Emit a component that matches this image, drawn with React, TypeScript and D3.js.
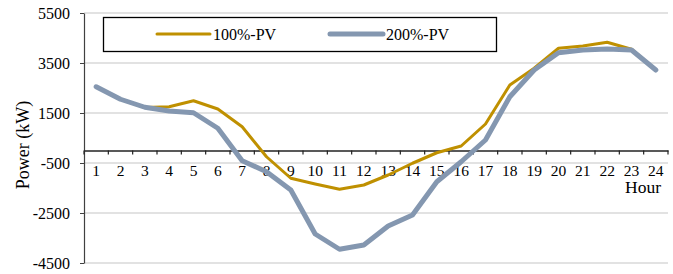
import React, { useRef, useEffect } from "react";
import * as d3 from "d3";

const hours = d3.range(1, 25).map(String);
const pv100 = [2550, 2050, 1720, 1750, 1990, 1660, 950, -250, -1110, -1340, -1550, -1380, -980, -510, -90, 180, 1060, 2620, 3290, 4090, 4180, 4330, 4050, 3220];
const pv200 = [2550, 2050, 1730, 1580, 1510, 890, -410, -850, -1580, -3340, -3950, -3780, -3020, -2580, -1250, -450, 420, 2150, 3220, 3910, 4020, 4060, 4020, 3220];
const yTicks = [5500, 3500, 1500, -500, -2500, -4500];

const series = [
    { name: "100%-PV", values: pv100, color: "#BF9000", width: 3 },
    { name: "200%-PV", values: pv200, color: "#8497B0", width: 5 },
];

const App = () => {
    const svgRef = useRef<SVGSVGElement>(null);

    useEffect(() => {
        if (!svgRef.current) return;
        const width = 673;
        const height = 274;
        const margin = { top: 13, right: 5, bottom: 11, left: 84 };
        const font = "Liberation Serif, Times New Roman, serif";

        d3.select(svgRef.current).selectAll("*").remove();
        const svg = d3.select(svgRef.current)
            .attr("width", width)
            .attr("height", height)
            .attr("font-family", font);

        const x = d3.scaleBand().domain(hours).range([margin.left, width - margin.right]);
        const y = d3.scaleLinear().domain([-4500, 5500]).range([height - margin.bottom, margin.top]);

        // gridlines
        svg.append("g")
            .selectAll("line")
            .data(yTicks)
            .enter()
            .append("line")
            .attr("x1", margin.left)
            .attr("x2", width - margin.right)
            .attr("y1", (d) => y(d))
            .attr("y2", (d) => y(d))
            .attr("stroke", "#d9d9d9")
            .attr("stroke-width", 1.5);

        // y axis
        const yAxis = svg.append("g")
            .attr("transform", `translate(${margin.left},0)`)
            .call(d3.axisLeft(y).tickValues(yTicks).tickFormat((d) => String(d)).tickSize(4).tickSizeOuter(0).tickPadding(10));
        yAxis.attr("font-family", font);
        yAxis.select(".domain").attr("stroke", "#404040").attr("stroke-width", 1.2);
        yAxis.selectAll(".tick line").attr("stroke", "#404040");
        yAxis.selectAll("text")
            .style("font-family", font)
            .style("font-size", "16px")
            .style("fill", "#000");

        // x axis at zero
        const xAxis = svg.append("g")
            .attr("transform", `translate(0,${y(0)})`)
            .call(d3.axisBottom(x).tickSize(0).tickSizeOuter(0).tickPadding(14));
        xAxis.attr("font-family", font);
        xAxis.select(".domain").attr("stroke", "#222").attr("stroke-width", 1.5);
        xAxis.selectAll("text")
            .style("font-family", font)
            .style("font-size", "15.5px")
            .style("fill", "#000");

        // tick marks at category boundaries
        svg.append("g")
            .selectAll("line")
            .data(d3.range(0, hours.length + 1))
            .enter()
            .append("line")
            .attr("x1", (i) => margin.left + i * x.step())
            .attr("x2", (i) => margin.left + i * x.step())
            .attr("y1", y(0))
            .attr("y2", y(0) + 4)
            .attr("stroke", "#222")
            .attr("stroke-width", 1.2);

        svg.append("text")
            .attr("x", 661)
            .attr("y", 193)
            .attr("text-anchor", "end")
            .style("font-family", font)
            .style("font-size", "17.5px")
            .text("Hour");

        svg.append("text")
            .attr("transform", `translate(29,145) rotate(-90)`)
            .attr("text-anchor", "middle")
            .style("font-family", font)
            .style("font-size", "18px")
            .text("Power (kW)");

        // lines
        const line = d3.line<number>()
            .x((_, i) => (x(hours[i]) as number) + x.bandwidth() / 2)
            .y((d) => y(d));

        series.forEach((s) => {
            svg.append("path")
                .datum(s.values)
                .attr("d", line)
                .attr("fill", "none")
                .attr("stroke", s.color)
                .attr("stroke-width", s.width)
                .attr("stroke-linejoin", "round")
                .attr("stroke-linecap", "round");
        });

        // legend
        const legend = svg.append("g");
        legend.append("rect")
            .attr("x", 103.5)
            .attr("y", 17.5)
            .attr("width", 393)
            .attr("height", 34)
            .attr("fill", "#fff")
            .attr("stroke", "#000")
            .attr("stroke-width", 1.3);
        const legendX = [157, 330];
        series.forEach((s, i) => {
            legend.append("line")
                .attr("x1", legendX[i])
                .attr("x2", legendX[i] + 53)
                .attr("y1", 34)
                .attr("y2", 34)
                .attr("stroke", s.color)
                .attr("stroke-width", s.width)
                .attr("stroke-linecap", "round");
            legend.append("text")
                .attr("x", legendX[i] + 56)
                .attr("y", 40)
                .style("font-family", font)
                .style("font-size", "16px")
                .text(s.name);
        });
    }, []);

    return <svg ref={svgRef} style={{ position: "absolute", left: 0, top: 0 }} />;
};

export default App;
